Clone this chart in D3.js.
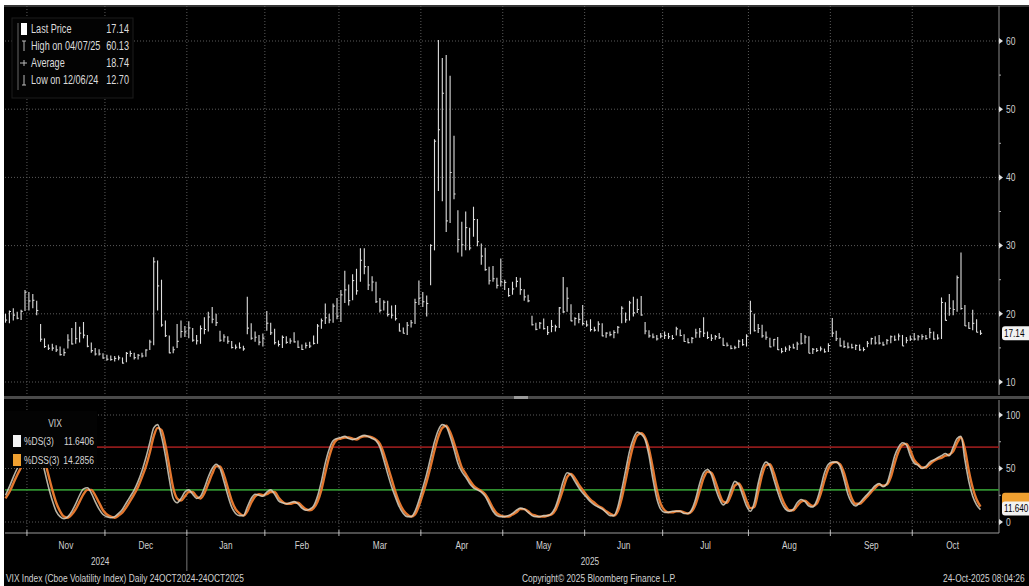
<!DOCTYPE html>
<html><head><meta charset="utf-8">
<script src="https://cdn.jsdelivr.net/npm/d3@7"></script>
<style>
html,body{margin:0;padding:0;background:#fff;overflow:hidden}
svg{display:block}
text{font-family:'Liberation Sans',Arial,sans-serif}
</style>
</head><body><svg id="c" width="1029" height="586"></svg>
<script>
// ---------- DATA ----------
const startDate = "2024-10-24", endDate = "2025-10-24";
const holidays = ["2024-11-28","2024-12-25","2025-01-01","2025-01-09","2025-01-20","2025-02-17",
  "2025-04-18","2025-05-26","2025-06-19","2025-07-04","2025-09-01"];

const highs = [
20.0,20.5,20.8,20.3,20.6,23.5,23.2,22.9,21.9,18.5,
16.4,15.5,15.6,15.4,15.2,14.9,17.0,17.9,18.8,18.1,
18.8,16.9,15.8,15.0,14.8,14.2,14.0,13.9,13.8,13.9,
13.6,14.4,14.6,14.3,14.1,14.3,14.8,16.2,28.3,27.8,
25.0,19.0,16.8,15.2,18.5,19.0,18.2,18.9,17.9,16.9,
18.3,19.5,20.3,21.0,20.0,17.5,17.0,16.7,16.0,15.5,
15.8,15.3,22.5,18.6,17.4,16.9,17.1,20.4,18.7,17.8,
16.1,16.8,16.7,16.4,17.3,16.1,15.5,15.8,15.9,16.8,
18.5,19.3,21.5,20.0,21.5,22.3,23.5,26.3,24.3,25.8,
26.6,29.6,29.6,27.0,25.5,24.7,22.3,22.0,21.9,21.2,
21.3,18.6,18.0,18.8,19.1,22.2,24.9,23.2,22.7,30.2,
45.6,60.13,57.5,57.96,54.9,46.1,35.2,33.5,35.0,32.6,
35.7,33.9,30.3,29.7,26.9,27.0,25.3,28.1,25.0,23.8,
24.7,25.4,25.3,23.6,22.8,19.7,18.7,18.8,19.3,18.2,
19.1,18.4,21.0,25.4,23.9,21.4,19.5,20.1,21.3,19.0,
19.2,18.1,18.9,18.6,17.3,17.4,17.6,18.2,21.1,20.2,
21.9,22.5,22.2,22.6,18.8,17.6,17.1,16.9,17.2,17.4,
17.2,16.9,18.1,17.7,17.0,16.4,16.6,17.8,17.9,19.5,
17.4,17.0,16.9,17.2,16.5,15.8,15.4,15.3,16.2,16.3,
17.0,21.9,20.0,18.5,18.4,17.4,16.5,16.3,16.6,15.0,
15.2,15.4,15.6,15.9,17.2,16.9,16.7,15.0,15.0,15.2,
14.9,15.7,19.4,17.5,16.5,16.1,15.8,15.6,15.5,15.5,
15.1,16.0,16.5,16.7,16.9,15.9,16.3,16.8,16.8,17.1,
16.9,16.6,16.8,17.2,16.9,17.0,16.9,17.9,17.4,17.0,
22.4,21.7,22.9,22.0,25.6,28.99,21.3,18.8,20.6,19.2,17.6];

const lows = [
18.7,18.6,19.0,19.2,19.1,20.4,20.5,20.8,19.8,15.9,
15.0,14.7,14.6,14.4,13.9,13.8,14.9,15.5,15.6,15.8,
16.4,15.1,14.3,13.9,13.9,13.4,13.1,13.1,13.0,13.2,
12.70,12.9,13.7,13.3,13.3,13.6,13.7,14.7,15.4,20.5,
18.1,16.6,14.2,14.2,15.0,16.5,16.6,16.4,15.9,15.5,
15.6,17.0,17.4,18.6,18.2,15.9,15.9,15.6,14.9,14.8,
14.9,14.6,17.0,16.2,15.9,15.4,15.2,17.5,16.9,15.5,
15.2,15.0,15.6,15.6,15.8,15.0,14.7,14.9,15.0,15.5,
15.6,17.8,18.5,18.6,18.7,19.2,18.8,21.6,21.2,22.0,
22.8,24.7,25.8,23.5,23.3,21.6,20.2,20.5,19.6,19.3,
19.0,17.4,17.1,16.9,18.0,18.5,21.3,21.0,19.6,24.2,
29.3,38.0,36.5,32.0,33.3,36.8,29.0,28.4,29.3,29.3,
31.3,29.9,27.2,26.3,24.3,24.7,23.7,24.0,23.5,22.5,
22.8,23.9,22.8,21.9,21.7,18.3,17.6,17.8,17.7,16.9,
17.3,17.4,17.9,20.1,20.3,18.9,18.3,18.6,18.3,18.1,
17.4,17.4,17.4,16.7,16.5,16.7,16.4,17.1,18.6,18.7,
19.0,19.6,20.1,19.7,17.0,16.5,16.4,16.1,16.4,16.3,
16.3,16.2,16.8,16.7,15.9,15.7,15.7,16.5,16.5,16.6,
16.3,16.0,16.2,16.3,15.3,15.2,14.8,14.8,15.0,15.3,
15.2,17.0,17.4,17.2,16.5,16.2,15.1,15.2,14.7,14.2,
14.4,14.6,14.9,14.7,15.5,15.6,14.2,14.1,14.4,14.5,
14.3,14.4,16.6,16.0,15.2,15.0,14.9,14.9,14.7,14.6,
14.5,15.1,15.5,15.5,15.5,15.3,15.5,15.7,16.0,16.1,
15.3,15.7,16.0,16.1,16.1,16.2,16.2,16.4,16.2,16.2,
16.3,19.0,19.7,19.8,20.3,20.6,18.2,17.8,17.6,17.3,16.9];

const closes = [
19.08,20.33,19.80,19.34,20.35,23.16,21.88,21.98,20.49,16.27,
15.20,14.94,14.97,14.71,14.02,14.31,16.14,15.58,16.35,17.16,
16.87,15.24,14.60,14.10,14.10,13.51,13.34,13.30,13.45,13.54,
12.77,14.19,14.18,13.58,13.92,13.81,14.69,15.87,27.62,24.09,
18.36,16.78,14.27,14.73,15.95,17.40,17.35,17.93,16.13,16.04,
17.82,17.70,19.54,19.19,18.71,16.12,16.60,15.97,15.06,15.10,
15.02,14.85,17.90,16.41,16.56,15.84,16.43,18.62,17.21,15.77,
15.50,16.54,15.81,16.02,15.89,15.10,14.77,15.35,15.27,15.66,
18.21,18.98,19.43,19.10,21.13,19.63,22.78,23.51,21.93,24.87,
23.37,27.86,26.92,24.23,24.66,21.77,20.51,21.70,19.90,19.80,
19.28,17.48,17.15,18.33,18.69,21.65,22.28,21.77,21.51,30.02,
45.31,46.98,52.33,33.62,40.72,37.56,30.89,30.12,32.64,29.65,
33.82,30.57,28.45,26.47,24.84,25.15,24.17,24.70,24.60,22.68,
23.64,24.76,23.55,22.48,21.90,18.39,17.72,18.62,17.83,17.24,
18.14,18.09,20.87,20.28,22.29,18.96,19.31,19.18,18.57,18.36,
17.69,17.61,18.48,16.77,17.16,16.95,17.26,18.02,20.82,19.11,
21.60,20.14,20.62,19.83,17.48,16.76,16.59,16.32,16.73,16.83,
16.64,16.38,17.79,16.81,15.94,15.78,16.40,17.20,17.38,17.16,
16.52,16.41,16.65,16.50,15.37,15.39,14.93,15.03,15.98,15.48,
16.72,20.38,17.52,17.85,16.77,16.57,15.15,16.25,14.73,14.49,
14.83,15.09,15.00,15.57,15.69,16.60,14.22,14.79,14.62,14.85,
14.43,15.36,17.17,16.35,15.30,15.18,15.11,15.04,15.35,14.71,
14.76,15.69,16.36,15.72,15.70,15.45,16.10,16.64,16.18,16.74,
15.29,16.12,16.28,16.29,16.63,16.65,16.37,17.24,16.30,16.43,
21.66,19.03,20.81,20.64,25.31,20.78,18.23,17.87,18.60,17.30,17.14];

// Stochastic %DS(3) (white) and %DSS(3) (orange)
const ds = [
25,33,42,50,57,65,72,74,70,62,
48,33,20,10,5,3,5,10,17,25,
31,32,27,19,12,7,5,4,5,8,
12,18,24,30,38,48,60,74,88,91,
80,62,40,22,18,22,28,30,26,22,
24,32,42,50,54,50,38,25,14,8,
6,6,14,22,26,25,24,28,30,26,
20,18,17,18,19,17,13,11,12,15,
24,38,55,68,76,78,79,80,78,77,
78,80,81,80,78,76,70,58,45,33,
23,14,8,5,5,10,20,32,45,60,
75,86,91,89,80,68,55,47,42,36,
32,30,28,24,17,10,6,5,5,6,
8,11,13,12,9,6,5,5,6,6,
8,14,25,38,46,44,38,32,27,23,
19,16,14,12,9,6,6,14,30,48,
66,78,84,82,77,62,40,22,12,9,
9,10,10,10,8,8,12,22,36,46,
49,44,32,22,16,20,30,38,35,25,
15,10,18,36,50,56,52,40,28,18,
12,10,12,18,21,19,15,14,20,32,
46,54,56,56,52,40,26,18,15,18,
22,26,30,34,36,33,36,48,62,70,
74,72,62,55,53,50,52,56,58,60,
62,64,62,70,78,80,58,38,24,16,11.64];

const dss = [
22,28,36,44,51,58,66,71,72,68,
58,44,30,18,10,5,4,7,12,19,
26,30,30,25,18,11,7,5,4,6,
9,14,20,26,33,42,52,65,80,88,
86,72,52,32,22,20,24,28,28,24,
22,27,36,45,52,52,44,32,20,12,
8,6,10,18,24,26,25,26,28,28,
23,19,17,17,18,18,15,12,11,13,
19,30,46,61,72,77,78,79,79,78,
77,79,80,80,79,77,73,64,52,40,
28,18,11,7,5,7,15,26,38,52,
67,80,88,90,84,74,62,51,45,39,
34,31,29,26,20,13,8,6,5,5,
7,9,12,12,10,7,6,5,5,6,
7,11,20,31,42,45,41,35,30,25,
21,18,15,13,10,8,6,10,22,39,
57,72,81,83,79,68,50,30,17,11,
9,9,10,10,9,8,10,17,29,41,
47,46,38,27,19,18,25,34,36,30,
20,13,14,28,44,53,54,46,34,23,
15,11,11,15,19,20,17,15,17,26,
39,50,55,56,54,46,33,22,17,17,
20,24,28,32,35,34,35,42,55,66,
72,73,67,58,54,51,51,54,57,59,
60,62,63,66,74,79,68,48,32,21,14.29];

const priceTicks = [10,20,30,40,50,60];
const priceMinor = [15,25,35,45,55];
const oscTicks = [0,50,100];
const overbought = 70, oversold = 30;
const monthLabels = ["Nov","Dec","Jan","Feb","Mar","Apr","May","Jun","Jul","Aug","Sep","Oct"];
const yearLabels = ["2024","2025"];
const legendRows = [["Last Price","17.14"],["High on 04/07/25","60.13"],["Average","18.74"],["Low on 12/06/24","12.70"]];
const oscTitle = "VIX";
const oscLegend = [["%DS(3)","11.6406"],["%DSS(3)","14.2856"]];
const lastPrice = 17.14, lastDS = 11.64, lastDSS = 14.29;
const tagTexts = ["17.14","11.640"];
const footLeft = "VIX Index (Cboe Volatility Index) Daily 24OCT2024-24OCT2025";
const footMid = "Copyright\u00A9 2025 Bloomberg Finance L.P.";
const footRight = "24-Oct-2025 08:04:26";

// ---------- BUILD ----------
const parse = d3.utcParse("%Y-%m-%d"), fmt = d3.utcFormat("%Y-%m-%d");
const hol = new Set(holidays);
const dates = d3.utcDay.range(parse(startDate), d3.utcDay.offset(parse(endDate), 1))
  .filter(d => d.getUTCDay() % 6 !== 0 && !hol.has(fmt(d)));
const N = dates.length;

const W = 1029, H = 586;
const plotL = 5, plotR = 999;
const svg = d3.select("#c");
svg.append("rect").attr("width", W).attr("height", H).attr("fill", "#fff");
svg.append("rect").attr("x", 4).attr("y", 5).attr("width", W - 4).attr("height", H - 5).attr("fill", "#000");

function T(g, x, y, txt, size, opts) {
  opts = opts || {};
  const sx = opts.sx || 0.78;
  return g.append("text")
    .attr("transform", `translate(${x},${y}) scale(${sx},1)`)
    .attr("text-anchor", opts.anchor || "start")
    .attr("fill", opts.fill || "#d2d2d2")
    .style("font-size", size + "px")
    .text(txt);
}

const x = d3.scaleLinear().domain([0, N - 1]).range([5.5, 980.5]);
const step = x(1) - x(0);
const yP = d3.scaleLinear().domain([10, 60]).range([382, 41]);
const yO = d3.scaleLinear().domain([0, 100]).range([522, 415]);

const topP = 6, botP = 395, topO = 400, botO = 533;

const bounds = [];
for (let i = 1; i < N; i++) if (dates[i].getUTCMonth() !== dates[i - 1].getUTCMonth()) bounds.push(i);
const bx = bounds.map(i => x(i) - step / 2);
const monthEnd = 993;

const grid = svg.append("g").attr("stroke", "#5a5a5a").attr("stroke-width", 1).attr("stroke-dasharray", "1,2");
bx.forEach(v => {
  grid.append("line").attr("x1", v).attr("x2", v).attr("y1", topP).attr("y2", botP);
  grid.append("line").attr("x1", v).attr("x2", v).attr("y1", topO).attr("y2", botO);
});
priceTicks.forEach(t => grid.append("line").attr("x1", plotL).attr("x2", plotR).attr("y1", yP(t)).attr("y2", yP(t)));
oscTicks.forEach(t => grid.append("line").attr("x1", plotL).attr("x2", plotR).attr("y1", yO(t)).attr("y2", yO(t)));

svg.append("line").attr("x1", 4).attr("x2", W).attr("y1", topP).attr("y2", topP).attr("stroke", "#6a6a6a");
svg.append("line").attr("x1", plotR).attr("x2", plotR).attr("y1", topP).attr("y2", botP).attr("stroke", "#8a8a8a");
svg.append("line").attr("x1", plotR).attr("x2", plotR).attr("y1", topO).attr("y2", botO).attr("stroke", "#8a8a8a");
svg.append("line").attr("x1", plotL).attr("x2", plotR).attr("y1", botO).attr("y2", botO).attr("stroke", "#9a9a9a");
svg.append("rect").attr("x", 4).attr("y", 396).attr("width", W - 4).attr("height", 3).attr("fill", "#4a4a4a");
svg.append("rect").attr("x", 514).attr("y", 396).attr("width", 14).attr("height", 3).attr("fill", "#9a9a9a");

// ---------- PRICE BARS ----------
const bars = svg.append("g").attr("stroke", "#dedede").attr("stroke-width", 1.1);
for (let i = 0; i < N; i++) {
  if (highs[i] == null) continue;
  const cx = x(i);
  bars.append("line").attr("x1", cx).attr("x2", cx).attr("y1", yP(lows[i])).attr("y2", yP(highs[i]));
  bars.append("line").attr("x1", cx).attr("x2", cx + 1.6).attr("y1", yP(closes[i])).attr("y2", yP(closes[i]));
}

// ---------- OSCILLATOR ----------
svg.append("line").attr("x1", plotL).attr("x2", plotR).attr("y1", yO(overbought)).attr("y2", yO(overbought))
  .attr("stroke", "#8e1a1a").attr("stroke-width", 1.6);
svg.append("line").attr("x1", plotL).attr("x2", plotR).attr("y1", yO(oversold)).attr("y2", yO(oversold))
  .attr("stroke", "#2f8f2f").attr("stroke-width", 1.6);

const line = d3.line().x((d, i) => x(i)).y(d => yO(d)).curve(d3.curveMonotoneX);
svg.append("path").attr("d", line(dss)).attr("fill", "none").attr("stroke", "#e4772e").attr("stroke-width", 2.4);
svg.append("path").attr("d", line(ds)).attr("fill", "none").attr("stroke", "#d8d2c2").attr("stroke-width", 1.6).attr("opacity", 0.85);

// ---------- RIGHT AXES ----------
function rightAxis(scale, ticks, minor) {
  const g = svg.append("g").attr("transform", `translate(${plotR},0)`);
  const ax = d3.axisRight(scale).tickValues(ticks).tickSize(0).tickPadding(6).tickFormat(d3.format("d"));
  g.call(ax);
  g.select(".domain").remove();
  g.selectAll("text").attr("fill", "#d0d0d0").style("font-size", "10px")
    .attr("transform", "scale(0.85,1)").attr("x", 7 / 0.85);
  ticks.forEach(t => g.append("path").attr("d", `M0,${scale(t) - 3}L4,${scale(t)}L0,${scale(t) + 3}Z`).attr("fill", "#e0e0e0"));
  (minor || []).forEach(t => g.append("line").attr("x1", 0).attr("x2", 2).attr("y1", scale(t)).attr("y2", scale(t)).attr("stroke", "#aaa"));
}
rightAxis(yP, priceTicks, priceMinor);
rightAxis(yO, oscTicks, [25, 75]);

function tag(yc, txt, bg) {
  svg.append("rect").attr("x", 1002).attr("y", yc - 7).attr("width", 32).attr("height", 14).attr("rx", 3).attr("fill", bg);
  if (txt) T(svg, 1004, yc + 3.5, txt, 10, { fill: "#000", sx: 0.82 });
}
tag(yP(lastPrice), tagTexts[0], "#f2f2f2");
tag(yO(lastDSS) - 7, null, "#f0a030");
tag(yO(lastDS) - 1, tagTexts[1], "#f2f2f2");

// ---------- BOTTOM AXIS ----------
const ax = svg.append("g");
bx.forEach(v => ax.append("line").attr("x1", v).attr("x2", v).attr("y1", botO - 3).attr("y2", botO + 3).attr("stroke", "#bbb"));
const edges = bx.concat([monthEnd]);
monthLabels.forEach((m, k) => T(ax, (edges[k] + edges[k + 1]) / 2, 549, m, 11, { anchor: "middle", sx: 0.75 }));
const janB = bx[2];
ax.append("line").attr("x1", janB).attr("x2", janB).attr("y1", botO + 4).attr("y2", 571).attr("stroke", "#777");
T(ax, (x(0) + janB) / 2 + 4, 565, yearLabels[0], 11, { anchor: "middle", sx: 0.75 });
T(ax, (janB + monthEnd) / 2, 565, yearLabels[1], 11, { anchor: "middle", sx: 0.75 });

T(svg, 6, 582, footLeft, 10.5, { sx: 0.8 });
T(svg, 522, 582, footMid, 10.5, { sx: 0.8 });
T(svg, 943, 582, footRight, 10.5, { sx: 0.8 });

// ---------- TOP LEGEND ----------
const lg = svg.append("g");
lg.append("rect").attr("x", 12).attr("y", 18).attr("width", 121).attr("height", 80).attr("fill", "#030303").attr("stroke", "#1c1c1c");
lg.append("line").attr("x1", 18).attr("x2", 18).attr("y1", 23).attr("y2", 90).attr("stroke", "#666");
legendRows.forEach((r, k) => {
  const yc = 29 + k * 17;
  if (k === 0) lg.append("rect").attr("x", 21).attr("y", yc - 6).attr("width", 6).attr("height", 12).attr("fill", "#fff");
  else if (k === 1) lg.append("path").attr("d", `M24,${yc - 5}V${yc + 5}M22,${yc - 5}H26`).attr("stroke", "#bbb");
  else if (k === 2) lg.append("path").attr("d", `M20,${yc}H27M24,${yc - 3}V${yc + 3}`).attr("stroke", "#bbb");
  else lg.append("path").attr("d", `M24,${yc - 5}V${yc + 5}M22,${yc + 5}H26`).attr("stroke", "#bbb");
  T(lg, 31, yc + 4, r[0], 12, { fill: "#dcdcdc", sx: 0.76 });
  T(lg, 129, yc + 4, r[1], 12, { fill: "#dcdcdc", sx: 0.76, anchor: "end" });
});

// ---------- LOWER LEGEND ----------
const lo = svg.append("g");
lo.append("rect").attr("x", 5).attr("y", 411).attr("width", 92).attr("height", 57).attr("fill", "#030303");
T(lo, 55, 427, oscTitle, 10, { anchor: "middle", sx: 0.85 });
const oscCols = ["#f4f4f4", "#f0a030"];
oscLegend.forEach((r, k) => {
  const yc = 441 + k * 19;
  lo.append("rect").attr("x", 13).attr("y", yc - 6).attr("width", 8).attr("height", 12).attr("fill", oscCols[k]);
  T(lo, 24, yc + 3.5, r[0], 10, { fill: "#d6d6d6", sx: 0.85 });
  T(lo, 94, yc + 3.5, r[1], 10, { fill: "#d6d6d6", sx: 0.85, anchor: "end" });
});
</script>
</body></html>
